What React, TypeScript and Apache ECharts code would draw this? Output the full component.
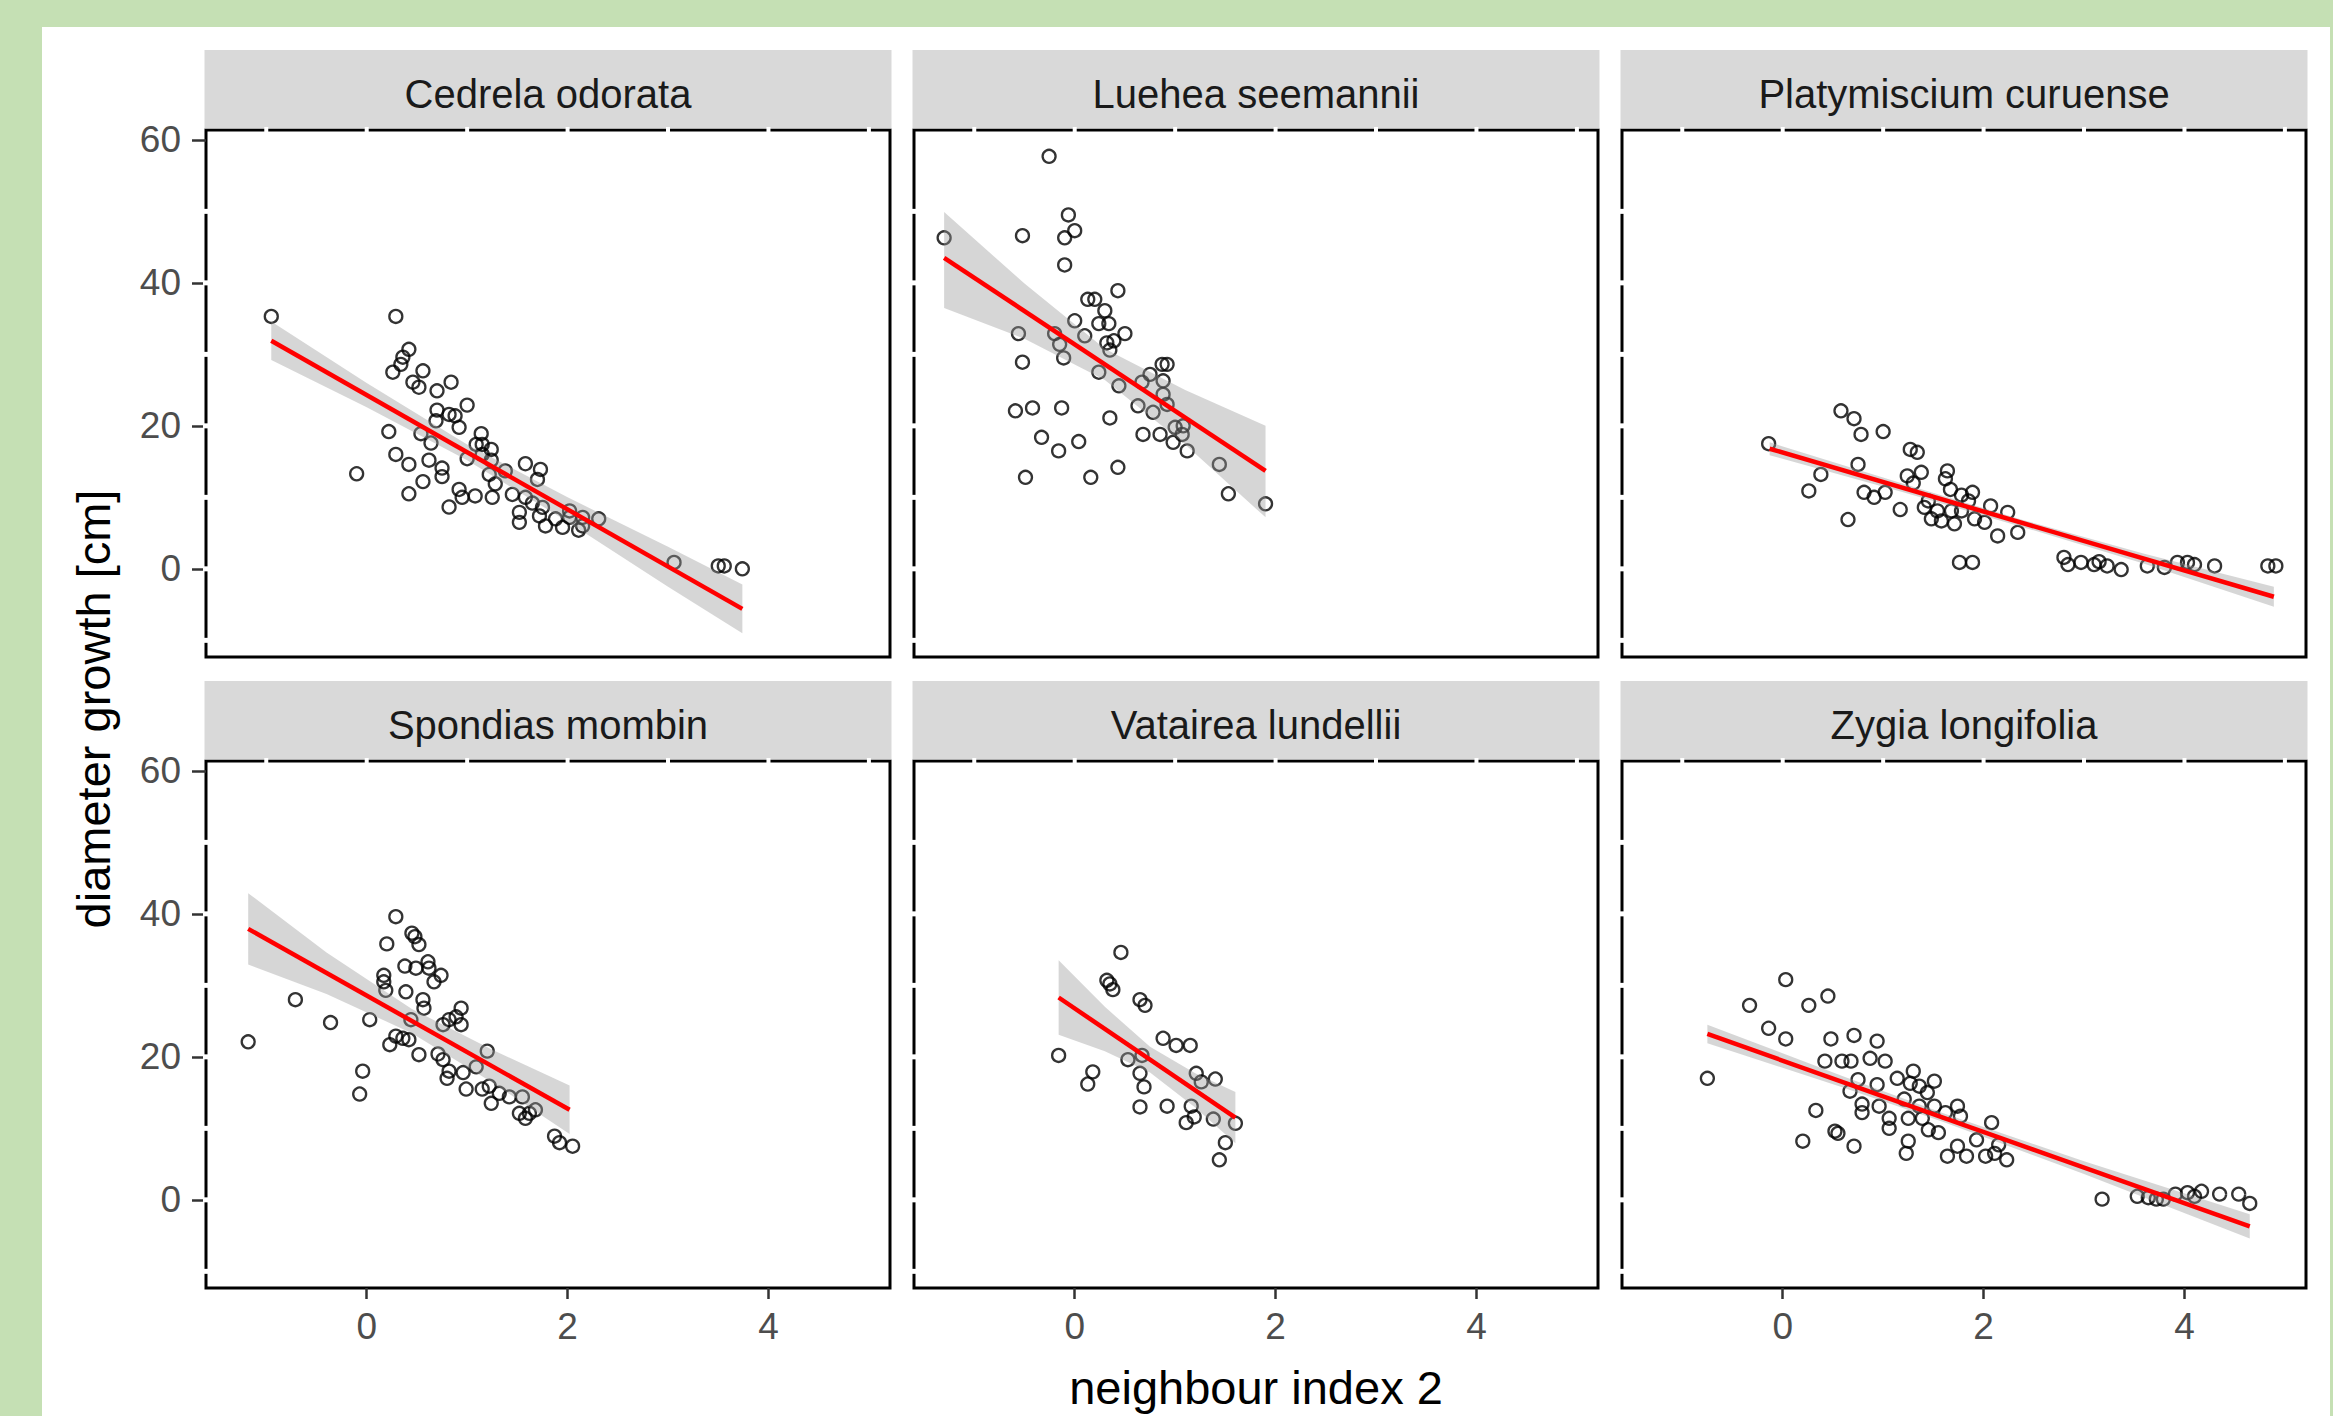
import React, { useEffect, useRef } from "react";
import * as echarts from "echarts";

const speciesNames = [
  "Cedrela odorata",
  "Luehea seemannii",
  "Platymiscium curuense",
  "Spondias mombin",
  "Vatairea lundellii",
  "Zygia longifolia",
];

const xTicks = [0, 2, 4];
const yTicks = [0, 20, 40, 60];
const xGridValues = [-1, 0, 1, 2, 3, 4, 5];
const yGridValues = [-10, 0, 10, 20, 30, 40, 50];

const cedrelaPoints = [
  [-0.95, 35.3], [0.29, 35.3], [0.42, 30.7], [0.36, 29.6], [0.34, 28.6], [0.26, 27.5], [0.56, 27.7],
  [0.46, 26.1], [0.52, 25.4], [0.84, 26.1], [0.7, 24.9], [1.0, 22.9], [0.7, 22.2], [0.82, 21.6],
  [0.88, 21.4], [0.69, 20.7], [0.92, 19.8], [0.22, 19.2], [0.54, 18.9], [0.64, 17.6], [1.14, 18.9],
  [1.15, 17.4], [1.24, 16.7], [1.09, 17.4], [0.29, 16.0], [0.42, 14.6], [0.62, 15.2], [0.75, 14.1],
  [0.75, 12.9], [0.56, 12.2], [0.42, 10.5], [-0.1, 13.3], [1.58, 14.7], [1.73, 13.9], [1.22, 13.2],
  [1.38, 13.7], [1.7, 12.5], [0.92, 11.1], [1.08, 10.2], [0.95, 10.0], [0.82, 8.65], [1.25, 10.0],
  [1.45, 10.4], [1.58, 10.0], [1.28, 11.9], [1.52, 7.9], [1.52, 6.5], [1.72, 7.4], [1.78, 6.0],
  [1.88, 7.0], [1.95, 5.8], [1.75, 8.6], [2.02, 7.2], [2.15, 6.0], [2.31, 7.0], [2.11, 5.4],
  [3.06, 0.9], [3.56, 0.4], [3.74, 0.0], [3.5, 0.4], [1.15, 16.0], [1.24, 15.2], [1.0, 15.4],
  [1.65, 9.2], [2.02, 8.1], [2.15, 7.2],
];
const cedrelaFitX = [-0.95, 3.74];
const cedrelaFitY = [31.9, -5.6];
const cedrelaBandX = [-0.95, 0, 1, 2, 3, 3.74];
const cedrelaBandLower = [29.2, 22.6, 15.2, 6.6, -2.5, -9.0];
const cedrelaBandUpper = [34.6, 26.0, 17.4, 10.0, 3.1, -2.2];

const lueheaPoints = [
  [-0.255, 57.7], [-0.063, 49.5], [0.0, 47.3], [-0.1, 46.3], [-0.52, 46.6], [-1.3, 46.3], [-0.1, 42.5],
  [0.43, 38.9], [0.13, 37.7], [0.2, 37.7], [0.3, 36.1], [0.0, 34.7], [0.24, 34.3], [0.34, 34.3],
  [0.5, 32.9], [0.1, 32.6], [0.32, 31.6], [0.39, 31.9], [0.35, 30.6], [-0.56, 32.9], [-0.15, 31.4],
  [-0.11, 29.5], [-0.52, 28.9], [0.24, 27.5], [0.87, 28.6], [0.92, 28.6], [0.75, 27.2], [0.88, 26.3],
  [0.44, 25.6], [0.67, 26.1], [0.88, 24.4], [0.63, 22.8], [0.78, 21.9], [0.92, 23.0], [1.08, 20.0],
  [1.07, 18.8], [0.98, 17.7], [1.12, 16.5], [0.68, 18.8], [0.85, 18.8], [0.35, 21.1], [-0.59, 22.1],
  [-0.42, 22.5], [-0.13, 22.5], [-0.33, 18.4], [-0.16, 16.5], [0.04, 17.8], [-0.49, 12.8], [0.16, 12.8],
  [0.43, 14.2], [1.44, 14.6], [1.53, 10.5], [1.9, 9.1], [-0.2, 32.9], [1.0, 19.8],
];
const lueheaFitX = [-1.3, 1.9];
const lueheaFitY = [43.5, 13.7];
const lueheaBandX = [-1.3, -0.5, 0.3, 1.1, 1.9];
const lueheaBandLower = [36.5, 32.2, 26.4, 17.4, 7.2];
const lueheaBandUpper = [49.9, 39.9, 30.8, 25.0, 20.0];

const platymisciumPoints = [
  [-0.14, 17.5], [0.58, 22.1], [0.71, 21.0], [0.78, 18.8], [1.0, 19.2], [1.27, 16.7], [1.34, 16.3],
  [0.75, 14.6], [0.38, 13.2], [0.26, 10.9], [0.81, 10.7], [0.91, 10.0], [0.65, 6.9], [1.17, 8.3],
  [1.24, 13.0], [1.38, 13.5], [1.64, 13.7], [1.67, 11.1], [1.89, 10.7], [1.41, 8.6], [1.54, 8.1],
  [1.68, 8.1], [1.78, 8.1], [1.58, 6.7], [1.71, 6.3], [2.07, 8.8], [2.24, 7.9], [2.01, 6.5],
  [2.14, 4.6], [2.34, 5.1], [1.02, 10.7], [1.78, 10.3], [1.91, 7.0], [1.48, 7.0], [1.76, 0.9],
  [1.89, 0.9], [2.8, 1.6], [2.84, 0.6], [2.97, 0.9], [3.1, 0.6], [3.23, 0.4], [3.37, -0.1],
  [3.63, 0.4], [3.8, 0.2], [3.93, 0.9], [4.1, 0.6], [4.3, 0.4], [4.83, 0.4], [4.91, 0.4],
  [3.15, 1.0], [4.03, 0.9], [1.3, 12.0], [1.62, 12.6], [1.45, 9.5], [1.85, 9.5],
];
const platymisciumFitX = [-0.13, 4.89];
const platymisciumFitY = [16.8, -3.9];
const platymisciumBandX = [-0.13, 1.2, 2.4, 3.6, 4.89];
const platymisciumBandLower = [15.9, 10.7, 5.8, 0.7, -5.3];
const platymisciumBandUpper = [17.7, 11.9, 6.8, 2.1, -2.5];

const spondiasPoints = [
  [-1.18, 22.1], [-0.71, 28.0], [-0.36, 24.8], [0.03, 25.2], [-0.04, 18.0], [-0.07, 14.8], [0.29, 39.6],
  [0.2, 35.8], [0.45, 37.3], [0.48, 36.8], [0.52, 35.7], [0.38, 32.7], [0.49, 32.4], [0.61, 33.3],
  [0.62, 32.4], [0.74, 31.4], [0.67, 30.5], [0.17, 31.4], [0.17, 30.5], [0.19, 29.3], [0.39, 29.1],
  [0.56, 28.0], [0.57, 26.8], [0.94, 26.8], [0.89, 25.6], [0.82, 25.2], [0.94, 24.5], [0.76, 24.5],
  [0.44, 25.2], [0.29, 22.9], [0.36, 22.6], [0.42, 22.4], [0.23, 21.7], [0.52, 20.3], [0.71, 20.4],
  [0.76, 19.6], [1.2, 20.8], [0.82, 18.0], [0.8, 17.0], [0.96, 17.8], [0.99, 15.5], [1.15, 15.5],
  [1.24, 13.5], [1.22, 15.9], [1.42, 14.4], [1.55, 14.4], [1.62, 12.1], [1.58, 11.4], [1.68, 12.6],
  [1.87, 8.9], [1.92, 8.0], [2.05, 7.5], [1.09, 18.6], [1.32, 14.9], [1.52, 12.1],
];
const spondiasFitX = [-1.18, 2.02];
const spondiasFitY = [37.9, 12.6];
const spondiasBandX = [-1.18, -0.4, 0.45, 1.25, 2.02];
const spondiasBandLower = [32.9, 28.8, 23.3, 16.4, 9.2];
const spondiasBandUpper = [42.9, 34.6, 26.7, 21.0, 16.0];

const vataireaPoints = [
  [0.46, 34.6], [0.32, 30.7], [0.38, 29.4], [0.35, 30.2], [0.65, 28.0], [0.7, 27.2], [-0.16, 20.2],
  [0.18, 17.9], [0.13, 16.2], [0.88, 22.6], [1.01, 21.6], [1.15, 21.6], [0.53, 19.6], [0.67, 20.2],
  [0.65, 17.7], [0.69, 15.8], [0.65, 13.0], [0.92, 13.1], [1.21, 17.7], [1.4, 16.9], [1.26, 16.5],
  [1.16, 13.1], [1.19, 11.6], [1.38, 11.3], [1.11, 10.8], [1.6, 10.7], [1.5, 8.0], [1.44, 5.6],
];
const vataireaFitX = [-0.16, 1.6];
const vataireaFitY = [28.3, 11.5];
const vataireaBandX = [-0.16, 0.3, 0.75, 1.2, 1.6];
const vataireaBandLower = [23.1, 20.8, 17.8, 12.9, 7.9];
const vataireaBandUpper = [33.5, 27.0, 21.4, 17.7, 15.1];

const zygiaPoints = [
  [-0.75, 17.0], [0.03, 30.8], [-0.33, 27.2], [0.26, 27.2], [0.45, 28.5], [-0.14, 24.0], [0.03, 22.5],
  [0.48, 22.5], [0.71, 23.0], [0.94, 22.2], [0.42, 19.4], [0.59, 19.4], [0.68, 19.4], [0.87, 19.8],
  [1.02, 19.4], [1.3, 18.0], [1.14, 17.0], [1.51, 16.6], [1.36, 15.9], [0.75, 16.8], [0.94, 16.1],
  [0.67, 15.2], [0.79, 13.4], [0.79, 12.2], [0.96, 13.1], [1.06, 11.4], [1.06, 10.0], [1.25, 11.4],
  [1.25, 8.2], [1.23, 6.5], [1.39, 11.4], [1.45, 9.8], [1.55, 9.4], [1.74, 13.1], [1.62, 12.2],
  [1.77, 11.7], [2.08, 10.8], [1.93, 8.4], [1.74, 7.5], [1.64, 6.1], [1.83, 6.1], [2.02, 6.1],
  [2.23, 5.6], [2.11, 6.5], [2.15, 7.7], [0.33, 12.5], [0.52, 9.6], [0.55, 9.3], [0.2, 8.2],
  [0.71, 7.5], [1.27, 16.3], [1.44, 15.0], [1.21, 14.1], [1.36, 13.1], [1.51, 13.1], [3.18, 0.1],
  [3.53, 0.5], [3.64, 0.3], [3.79, 0.1], [3.91, 0.8], [4.03, 1.0], [4.17, 1.2], [4.35, 0.8],
  [4.54, 0.8], [4.65, -0.5], [4.1, 0.5], [3.72, 0.1],
];
const zygiaFitX = [-0.75, 4.65];
const zygiaFitY = [23.2, -3.7];
const zygiaBandX = [-0.75, 0.6, 1.6, 3.0, 4.65];
const zygiaBandLower = [21.9, 15.7, 10.9, 3.6, -5.4];
const zygiaBandUpper = [24.5, 17.3, 12.1, 5.4, -2.0];

const panels = [
  { points: cedrelaPoints, fitX: cedrelaFitX, fitY: cedrelaFitY, bandX: cedrelaBandX, lower: cedrelaBandLower, upper: cedrelaBandUpper },
  { points: lueheaPoints, fitX: lueheaFitX, fitY: lueheaFitY, bandX: lueheaBandX, lower: lueheaBandLower, upper: lueheaBandUpper },
  { points: platymisciumPoints, fitX: platymisciumFitX, fitY: platymisciumFitY, bandX: platymisciumBandX, lower: platymisciumBandLower, upper: platymisciumBandUpper },
  { points: spondiasPoints, fitX: spondiasFitX, fitY: spondiasFitY, bandX: spondiasBandX, lower: spondiasBandLower, upper: spondiasBandUpper },
  { points: vataireaPoints, fitX: vataireaFitX, fitY: vataireaFitY, bandX: vataireaBandX, lower: vataireaBandLower, upper: vataireaBandUpper },
  { points: zygiaPoints, fitX: zygiaFitX, fitY: zygiaFitY, bandX: zygiaBandX, lower: zygiaBandLower, upper: zygiaBandUpper },
];

const X_MIN = -1.6;
const X_MAX = 5.21;
const Y_MIN = -12.33;
const Y_MAX = 61.38;

const FONT = "'Liberation Sans', Arial, sans-serif";
const COL_LEFT = [206, 914, 1622];
const ROW_TOP = [130, 761];
const PANEL_W = 684;
const PANEL_H = 527;
const STRIP_H = 80;

export default function App() {
  const ref = useRef<HTMLDivElement>(null);

  useEffect(() => {
    if (!ref.current) return;
    const chart = echarts.init(ref.current, undefined, { renderer: "svg" });

    const grids: any[] = [];
    const xAxes: any[] = [];
    const yAxes: any[] = [];
    const series: any[] = [];
    const graphics: any[] = [];

    panels.forEach((p, i) => {
      const col = i % 3;
      const row = Math.floor(i / 3);
      const left = COL_LEFT[col];
      const top = ROW_TOP[row];
      grids.push({
        left,
        top,
        width: PANEL_W,
        height: PANEL_H,
        show: true,
        backgroundColor: "#ffffff",
        borderColor: "#000000",
        borderWidth: 3,
      });
      xAxes.push({
        type: "value",
        gridIndex: i,
        min: X_MIN,
        max: X_MAX,
        axisLine: { show: false, onZero: false },
        splitLine: { show: false },
        axisTick: {
          show: row === 1,
          customValues: xTicks,
          length: 11,
          lineStyle: { color: "#333333", width: 2.5 },
        },
        axisLabel: {
          show: row === 1,
          customValues: xTicks,
          fontSize: 37,
          color: "#4D4D4D",
          fontFamily: FONT,
          margin: 20,
        },
      });
      yAxes.push({
        type: "value",
        gridIndex: i,
        min: Y_MIN,
        max: Y_MAX,
        axisLine: { show: false, onZero: false },
        splitLine: { show: false },
        axisTick: {
          show: col === 0,
          customValues: yTicks,
          length: 14,
          lineStyle: { color: "#333333", width: 2.5 },
        },
        axisLabel: {
          show: col === 0,
          customValues: yTicks,
          fontSize: 37,
          color: "#4D4D4D",
          fontFamily: FONT,
          margin: 25,
        },
      });

      series.push({
        type: "scatter",
        xAxisIndex: i,
        yAxisIndex: i,
        data: p.points,
        symbol: "circle",
        symbolSize: 13,
        itemStyle: { color: "rgba(0,0,0,0)", borderColor: "#000000", borderWidth: 2.3 },
        silent: true,
        z: 2,
      });

      const bx = p.bandX;
      const lo = p.lower;
      const up = p.upper;
      series.push({
        type: "custom",
        xAxisIndex: i,
        yAxisIndex: i,
        data: [[bx[0], lo[0]]],
        silent: true,
        z: 3,
        renderItem: (params: any, api: any) => {
          const pts: number[][] = [];
          for (let k = 0; k < bx.length; k++) pts.push(api.coord([bx[k], up[k]]));
          for (let k = bx.length - 1; k >= 0; k--) pts.push(api.coord([bx[k], lo[k]]));
          return {
            type: "polygon",
            shape: { points: pts },
            style: { fill: "rgba(153,153,153,0.4)", stroke: null },
          };
        },
      });

      series.push({
        type: "line",
        xAxisIndex: i,
        yAxisIndex: i,
        data: p.fitX.map((x, k) => [x, p.fitY[k]]),
        symbol: "none",
        lineStyle: { color: "#FF0000", width: 4.5 },
        silent: true,
        z: 4,
      });

      const gapData = xGridValues
        .map((v) => [v, Y_MAX, 0])
        .concat(yGridValues.map((v) => [X_MIN, v, 1]));
      series.push({
        type: "custom",
        xAxisIndex: i,
        yAxisIndex: i,
        data: gapData,
        silent: true,
        z: 5,
        renderItem: (params: any, api: any) => {
          const c = api.coord([api.value(0), api.value(1)]);
          const kind = api.value(2);
          const shape =
            kind === 0
              ? { x: c[0] - 2, y: c[1] - 3, width: 4, height: 6 }
              : { x: c[0] - 3, y: c[1] - 2.5, width: 6, height: 5 };
          return { type: "rect", shape, style: { fill: "#ffffff" } };
        },
      });

      graphics.push({
        type: "rect",
        shape: { x: left - 1.5, y: top - STRIP_H, width: PANEL_W + 3, height: STRIP_H - 1.5 },
        style: { fill: "#D9D9D9" },
        silent: true,
      });
      graphics.push({
        type: "text",
        x: left + PANEL_W / 2,
        y: top - STRIP_H + 44,
        style: {
          text: speciesNames[i],
          fontSize: 40,
          fontFamily: FONT,
          fill: "#1A1A1A",
          align: "center",
          verticalAlign: "middle",
        },
        silent: true,
      });
    });

    graphics.push({
      type: "text",
      x: (COL_LEFT[0] + COL_LEFT[2] + PANEL_W) / 2,
      y: 1387,
      style: {
        text: "neighbour index 2",
        fontSize: 47,
        fontFamily: FONT,
        fill: "#000000",
        align: "center",
        verticalAlign: "middle",
      },
      silent: true,
    });
    graphics.push({
      type: "text",
      x: 93,
      y: (ROW_TOP[0] + ROW_TOP[1] + PANEL_H) / 2,
      rotation: Math.PI / 2,
      style: {
        text: "diameter growth [cm]",
        fontSize: 47,
        fontFamily: FONT,
        fill: "#000000",
        align: "center",
        verticalAlign: "middle",
      },
      silent: true,
    });

    chart.setOption({
      animation: false,
      backgroundColor: "transparent",
      grid: grids,
      xAxis: xAxes,
      yAxis: yAxes,
      series,
      graphic: graphics,
    });

    return () => {
      chart.dispose();
    };
  }, []);

  return (
    <div style={{ position: "fixed", left: 0, top: 0, width: 2333, height: 1416, background: "#C5E0B4", overflow: "hidden" }}>
      <div style={{ position: "absolute", left: 42, top: 27, width: 2288, height: 1389, background: "#ffffff" }} />
      <div ref={ref} style={{ position: "absolute", left: 0, top: 0, width: 2333, height: 1416 }} />
    </div>
  );
}
